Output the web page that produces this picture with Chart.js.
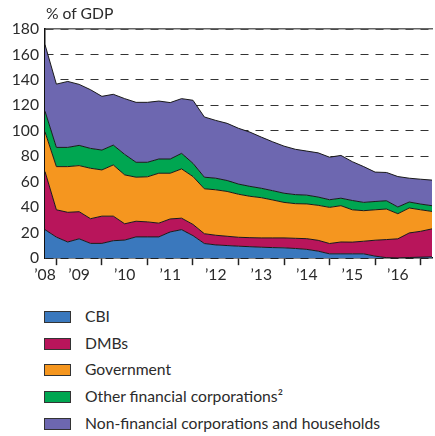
<!DOCTYPE html>
<html lang="en">
<head>
<meta charset="UTF-8">
<title>Debt by sector</title>
<script src="https://cdn.jsdelivr.net/npm/chart.js@4"></script>
<style>
  body { margin: 0; background: #fff; font-family: Lato, "Open Sans", sans-serif; color: #2b2b2b; }
  #wrap { position: relative; width: 435px; height: 284px; }
  #unit { position: absolute; left: 46px; top: 4px; font-size: 15.7px; }
  .legend { position: absolute; left: 44px; top: 303px; margin: 0; padding: 0; list-style: none; font-size: 15.7px; }
  .legend li { height: 26.7px; line-height: 26.7px; position: relative; padding-left: 41px; white-space: nowrap; }
  .legend span { position: absolute; left: 0; top: 8px; width: 25px; height: 10px; border: 1px solid #333; }
</style>
</head>
<body>
<div id="wrap">
  <div id="unit">% of GDP</div>
  <canvas id="myChart"></canvas>
</div>
<ul class="legend" id="legend"></ul>
<script>
// quarter ends, 2008Q3 .. 2017Q1
const quarters = [
  '2008Q3', '2008Q4',
  '2009Q1', '2009Q2', '2009Q3', '2009Q4',
  '2010Q1', '2010Q2', '2010Q3', '2010Q4',
  '2011Q1', '2011Q2', '2011Q3', '2011Q4',
  '2012Q1', '2012Q2', '2012Q3', '2012Q4',
  '2013Q1', '2013Q2', '2013Q3', '2013Q4',
  '2014Q1', '2014Q2', '2014Q3', '2014Q4',
  '2015Q1', '2015Q2', '2015Q3', '2015Q4',
  '2016Q1', '2016Q2', '2016Q3', '2016Q4',
  '2017Q1'
];
const yearLabels = ['\u201908', '\u201909', '\u201910', '\u201911', '\u201912', '\u201913', '\u201914', '\u201915', '\u201916'];

// % of GDP, per sector (stacked)
const cbi = [22.4, 16.5, 12.7, 15.2, 11.6, 11.6, 13.7, 14.2, 16.7, 16.7, 16.7, 20.6, 22.4, 17.7, 11.5, 10.4, 9.9, 9.4,
  9.0, 8.6, 8.3, 8.1, 7.6, 6.9, 5.5, 3.4, 3.4, 3.4, 3.4, 1.6, 0.4, 0.2, 0.5, 0.8, 1.0];
const dmbs = [45.6, 21.5, 23.3, 21.3, 19.4, 21.4, 19.3, 12.8, 12.3, 11.8, 10.8, 10.2, 9.0, 8.8, 7.7, 7.6, 7.3, 7.0,
  7.1, 7.3, 7.6, 7.8, 8.0, 8.4, 8.5, 8.1, 9.3, 9.2, 9.9, 12.5, 14.2, 15.0, 19.3, 20.3, 22.0];
const government = [31.2, 33.9, 35.9, 36.2, 39.6, 36.3, 40.2, 38.4, 34.6, 35.4, 39.2, 35.9, 38.7, 37.6, 35.3, 35.7, 35.2, 33.8,
  32.5, 31.6, 29.8, 27.9, 27.2, 27.3, 27.5, 28.4, 28.5, 25.4, 24.0, 23.9, 24.0, 19.7, 19.6, 16.9, 13.7];
const otherFinancial = [16.2, 15.1, 15.1, 15.9, 15.6, 15.6, 15.6, 16.1, 11.7, 11.4, 11.2, 11.2, 12.2, 10.4, 9.1, 9.1, 8.6, 8.0,
  7.8, 7.4, 7.3, 7.2, 7.1, 6.9, 6.5, 6.0, 5.9, 7.3, 6.5, 6.5, 6.5, 5.3, 4.7, 4.5, 4.5];
const nonFinancial = [52.3, 49.7, 51.8, 47.9, 46.1, 42.2, 39.9, 43.8, 47.1, 47.1, 45.5, 44.3, 43.0, 49.5, 47.3, 45.4, 44.9, 43.8,
  42.6, 40.2, 38.4, 37.0, 35.6, 34.6, 34.7, 33.4, 33.6, 30.5, 28.1, 23.1, 22.2, 23.9, 18.7, 19.5, 20.1];

const series = [
  { label: 'CBI', data: cbi, color: '#3a78bd' },
  { label: 'DMBs', data: dmbs, color: '#b8155b' },
  { label: 'Government', data: government, color: '#f5961f' },
  { label: 'Other financial corporations\u00b2', data: otherFinancial, color: '#00a651' },
  { label: 'Non-financial corporations and households', data: nonFinancial, color: '#6d67b0' }
];

const font = { family: 'Lato', size: 15.7 };

const data = {
  labels: quarters,
  datasets: series.map((s, i) => ({
    label: s.label,
    data: s.data,
    backgroundColor: s.color,
    borderColor: '#1a1a1a',
    borderWidth: 1,
    pointRadius: 0,
    tension: 0,
    fill: i === 0 ? 'origin' : '-1'
  }))
};

const config = {
  type: 'line',
  data,
  options: {
    responsive: true,
    maintainAspectRatio: false,
    animation: false,
    layout: { padding: { top: 21, right: 3, left: 0, bottom: 0 } },
    plugins: { legend: { display: false }, tooltip: { enabled: false } },
    scales: {
      x: {
        offset: false,
        border: { color: '#111', width: 1.5 },
        grid: {
          drawOnChartArea: false,
          tickLength: 7,
          tickColor: ctx => (quarters[ctx.index] || '').endsWith('Q4') ? '#222' : 'rgba(0,0,0,0)',
          tickWidth: 1.5
        },
        ticks: {
          autoSkip: false,
          maxRotation: 0,
          padding: 0,
          color: '#2b2b2b',
          font,
          callback: function (val, index) {
            const q = quarters[index];
            if (index === 0) return yearLabels[0];
            if (q.endsWith('Q2')) return yearLabels[+q.slice(0, 4) - 2008];
            return '';
          }
        }
      },
      top: {
        type: 'category',
        position: 'top',
        border: { color: '#666', width: 1.5 },
        grid: { display: false },
        ticks: { display: false }
      },
      y: {
        stacked: true,
        min: 0,
        max: 180,
        afterFit: scale => { scale.width = 45; },
        border: { color: '#111', width: 1.5, dash: [8, 7] },
        grid: { color: '#333', lineWidth: 1, drawTicks: false },
        ticks: { stepSize: 20, padding: 6, color: '#2b2b2b', font }
      }
    }
  }
};

var myChart = new Chart(document.getElementById('myChart'), config);

const legend = document.getElementById('legend');
series.forEach(s => {
  const li = document.createElement('li');
  li.innerHTML = '<span style="background:' + s.color + '"></span>' + s.label;
  legend.appendChild(li);
});
</script>
</body>
</html>
